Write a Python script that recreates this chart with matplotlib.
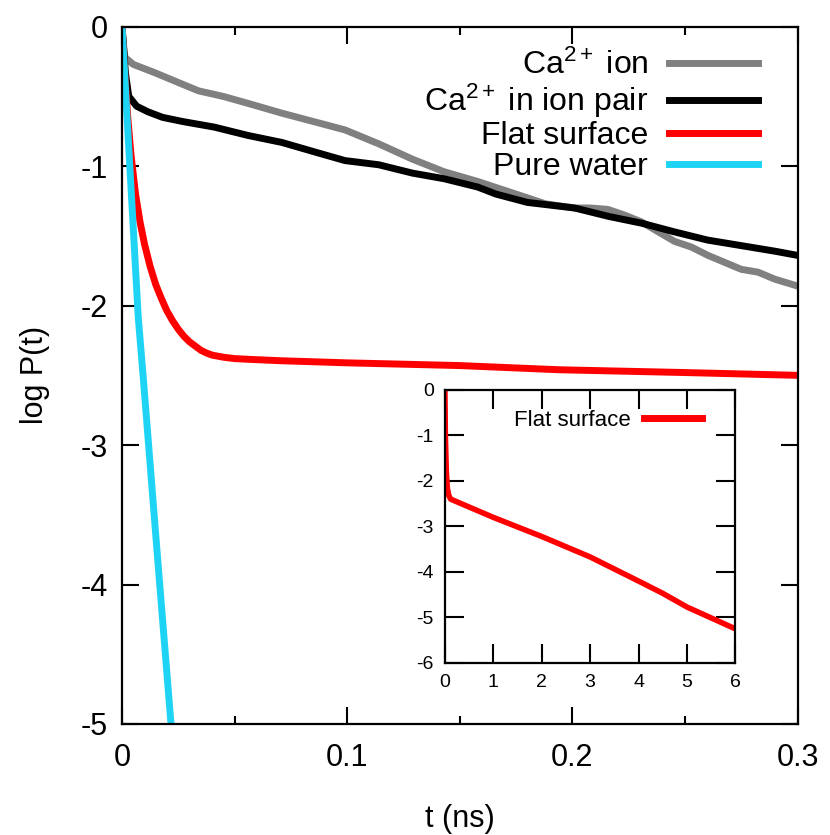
import matplotlib
matplotlib.use("Agg")
import matplotlib.pyplot as plt
from matplotlib.ticker import MultipleLocator, FuncFormatter

plt.rcParams['font.family'] = ['Liberation Sans', 'DejaVu Sans']
plt.rcParams['axes.unicode_minus'] = False
plt.rcParams['mathtext.fontset'] = 'custom'
plt.rcParams['mathtext.rm'] = 'Liberation Sans'
plt.rcParams['mathtext.it'] = 'Liberation Sans:italic'
plt.rcParams['mathtext.bf'] = 'Liberation Sans:bold'

# ---- data ----
t_ion = [0, 0.0008, 0.0013, 0.005, 0.0146, 0.025, 0.034, 0.045, 0.056, 0.071, 0.085,
         0.099, 0.114, 0.129, 0.143, 0.158, 0.173, 0.188, 0.201, 0.208, 0.2157, 0.223,
         0.2307, 0.238, 0.2454, 0.2528, 0.2602, 0.2676, 0.275, 0.2824, 0.2898, 0.300]
y_ion = [0, -0.15, -0.22, -0.27, -0.33, -0.40, -0.46, -0.50, -0.55, -0.62, -0.68,
         -0.74, -0.84, -0.95, -1.04, -1.11, -1.19, -1.27, -1.30, -1.30, -1.31, -1.35,
         -1.40, -1.47, -1.54, -1.58, -1.64, -1.69, -1.74, -1.76, -1.81, -1.86]

t_pair = [0, 0.0015, 0.003, 0.0065, 0.0115, 0.018, 0.027, 0.041, 0.056, 0.071, 0.086,
          0.099, 0.114, 0.129, 0.143, 0.158, 0.166, 0.180, 0.201, 0.216, 0.231, 0.245,
          0.260, 0.275, 0.290, 0.300]
y_pair = [0, -0.33, -0.50, -0.57, -0.61, -0.65, -0.68, -0.72, -0.78, -0.83, -0.90,
          -0.96, -0.99, -1.05, -1.09, -1.15, -1.20, -1.26, -1.30, -1.36, -1.41, -1.47,
          -1.53, -1.57, -1.61, -1.64]

t_flat = [0, 0.001, 0.0025, 0.004, 0.006, 0.008, 0.010, 0.0125, 0.015, 0.0175, 0.020,
          0.0225, 0.025, 0.0275, 0.030, 0.0325, 0.035, 0.0375, 0.040, 0.045, 0.050,
          0.056, 0.070, 0.099, 0.150, 0.194, 0.250, 0.300]
y_flat = [0, -0.28, -0.64, -0.92, -1.20, -1.40, -1.56, -1.72, -1.85, -1.95, -2.04,
          -2.11, -2.17, -2.22, -2.26, -2.29, -2.32, -2.34, -2.355, -2.37, -2.38,
          -2.385, -2.395, -2.41, -2.43, -2.46, -2.48, -2.50]

t_water = [0, 0.0036, 0.0072, 0.0095, 0.0155, 0.0217, 0.0235]
y_water = [0, -1.04, -2.08, -2.53, -3.75, -4.99, -5.35]

t_inset = [0, 0.01, 0.03, 0.05, 0.08, 0.12, 1, 2, 3, 4, 4.5, 5, 6]
y_inset = [0, -1.0, -1.8, -2.15, -2.32, -2.40, -2.80, -3.22, -3.67, -4.20, -4.47, -4.77, -5.25]

labels = ['Ca$^{2+}$ ion', 'Ca$^{2+}$ in ion pair', 'Flat surface', 'Pure water']
colors = ['#808080', '#000000', '#ff0000', '#1fd3f5']

fig = plt.figure(figsize=(8.30, 8.35), dpi=100)
ax = fig.add_axes([0.147, 0.133, 0.814, 0.835])

for (t, y), lab, c in zip([(t_ion, y_ion), (t_pair, y_pair), (t_flat, y_flat), (t_water, y_water)],
                          labels, colors):
    ax.plot(t, y, color=c, lw=5, label=lab, solid_joinstyle='round')

ax.set_xlim(0, 0.3)
ax.set_ylim(-5, 0)
ax.xaxis.set_major_locator(MultipleLocator(0.1))
ax.xaxis.set_minor_locator(MultipleLocator(0.05))
ax.yaxis.set_major_locator(MultipleLocator(1))
ax.xaxis.set_major_formatter(FuncFormatter(lambda v, p: '%g' % round(v, 3)))
ax.tick_params(axis='both', which='major', direction='in', length=12, width=1.5,
               top=True, right=True, labelsize=22, pad=10)
ax.tick_params(axis='both', which='minor', direction='in', length=6, width=1.5,
               top=True, right=True)
ax.tick_params(axis='x', which='major', pad=14)
for s in ax.spines.values():
    s.set_linewidth(1.6)
ax.set_xlabel('t (ns)', fontsize=22, labelpad=22)
ax.set_ylabel('log P(t)', fontsize=22, labelpad=22)

leg = ax.legend(loc='upper right', frameon=False, fontsize=23, markerfirst=False,
                handlelength=2.8, handletextpad=0.65, labelspacing=0.03,
                borderaxespad=0.3, bbox_to_anchor=(0.975, 0.999))
for line in leg.get_lines():
    line.set_linewidth(5)

# ---- inset ----
ins = fig.add_axes([0.536, 0.206, 0.350, 0.327])
ins.plot(t_inset, y_inset, color='#ff0000', lw=4, label='Flat surface')
ins.set_xlim(0, 6)
ins.set_ylim(-6, 0)
ins.xaxis.set_major_locator(MultipleLocator(1))
ins.yaxis.set_major_locator(MultipleLocator(1))
ins.tick_params(axis='both', which='major', direction='in', length=14, width=1.5,
                top=True, right=True, labelsize=14, pad=8)
for s in ins.spines.values():
    s.set_linewidth(1.6)
ileg = ins.legend(loc='upper right', frameon=False, fontsize=16, markerfirst=False,
                  handlelength=2.6, handletextpad=0.6, borderaxespad=0.2,
                  bbox_to_anchor=(0.93, 0.975))
for line in ileg.get_lines():
    line.set_linewidth(5)

fig.savefig('out.png', dpi=100)
